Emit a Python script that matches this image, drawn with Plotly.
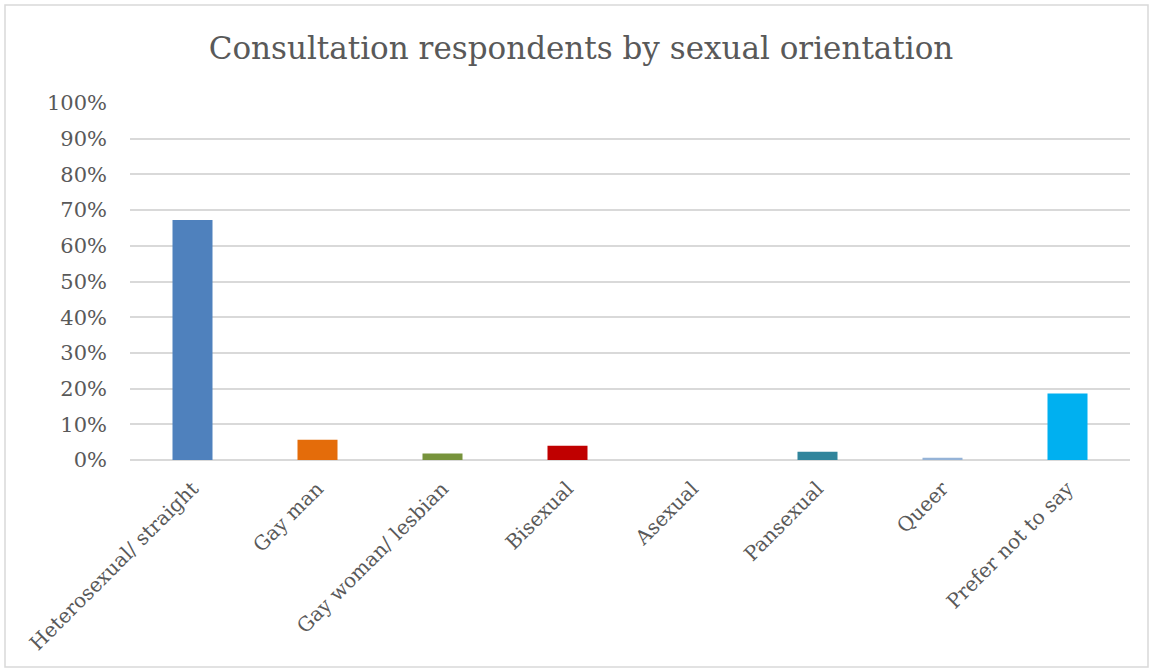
import plotly.graph_objects as go

# Respondent categories and their share (fraction of respondents)
categories = [
    "Heterosexual/ straight",
    "Gay man",
    "Gay woman/ lesbian",
    "Bisexual",
    "Asexual",
    "Pansexual",
    "Queer",
    "Prefer not to say",
]
shares = [0.672, 0.057, 0.018, 0.040, 0.0, 0.023, 0.006, 0.186]
bar_colors = ["#4F81BD", "#E46C0A", "#77933C", "#C00000",
              "#8064A2", "#31859C", "#95B3D7", "#00B0F0"]

W, H = 1153, 672
L, R, T, B = 130, 23, 103, 212
pw, ph = W - L - R, H - T - B

fig = go.Figure()
fig.add_trace(
    go.Bar(
        x=categories,
        y=shares,
        marker_color=bar_colors,
        marker_line_width=0,
        hovertemplate="%{x}: %{y:.0%}<extra></extra>",
    )
)

font_family = "DejaVu Serif, Liberation Serif, serif"

fig.update_layout(
    width=W,
    height=H,
    margin=dict(l=L, r=R, t=T, b=B, autoexpand=False),
    paper_bgcolor="white",
    plot_bgcolor="white",
    bargap=0.68,
    showlegend=False,
    font=dict(family=font_family, color="#595959", size=20),
    title=dict(
        text="Consultation respondents by sexual orientation",
        x=(581 - L) / pw,
        xref="paper",
        xanchor="center",
        y=1 - 48 / H,
        yanchor="middle",
        font=dict(family=font_family, size=31, color="#595959"),
    ),
    xaxis=dict(
        tickangle=-45,
        showgrid=False,
        showline=False,
        ticks="",
        ticklabelstandoff=12,
        tickfont=dict(size=20, color="#595959"),
    ),
    yaxis=dict(
        range=[0, 1.0],
        tickvals=[i / 10 for i in range(11)],
        tickformat=".0%",
        showgrid=True,
        gridcolor="#D9D9D9",
        gridwidth=1.5,
        zeroline=True,
        zerolinecolor="#D9D9D9",
        zerolinewidth=1.5,
        ticks="",
        ticklabelstandoff=22,
        tickfont=dict(size=21, color="#595959"),
        fixedrange=True,
    ),
)

# Chart-area border
fig.add_shape(
    type="rect",
    xref="paper", yref="paper",
    x0=(5 - L) / pw, x1=(1148 - L) / pw,
    y0=(H - B - 667) / ph, y1=(H - B - 5) / ph,
    line=dict(color="#D9D9D9", width=1.5),
    fillcolor="rgba(0,0,0,0)",
    layer="below",
)

# remove the browser's default page margin so the figure sits at (0, 0)
fig.write_html(
    "out.html",
    config={"displayModeBar": False},
    post_script="document.body.style.margin='0';",
)
